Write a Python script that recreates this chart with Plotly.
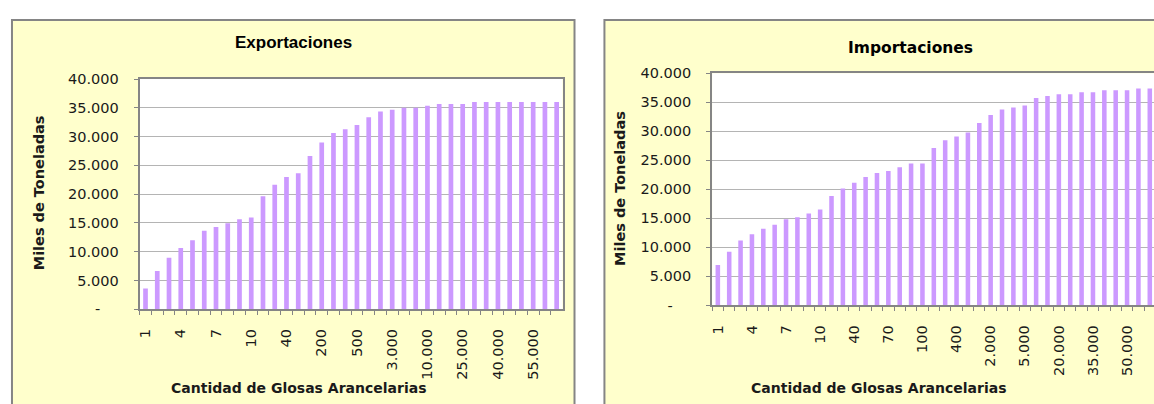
import plotly.graph_objects as go

W, H = 1154, 404

# ---------------- data ----------------
exp_categories = ["1", "2", "3", "4", "5", "6", "7", "8", "9", "10",
                  "20", "30", "40", "50", "100", "200", "300", "400", "500",
                  "1.000", "2.000", "3.000", "5.000", "7.000", "10.000",
                  "15.000", "20.000", "25.000", "30.000", "35.000", "40.000",
                  "45.000", "50.000", "55.000", "60.000", "65.000"]
exp_values = [3600, 6650, 8950, 10650, 12000, 13650, 14300, 14950, 15650, 15950,
              19650, 21650, 23000, 23650, 26650, 29000, 30650, 31300, 32000,
              33350, 34350, 34650, 35000, 35000, 35350, 35650,
              35650, 35650, 36000, 36000, 36000, 36000, 36000, 36000, 36000, 36000]

imp_categories = ["1", "2", "3", "4", "5", "6", "7", "8", "9", "10",
                  "20", "30", "40", "50", "60", "70", "80", "90", "100",
                  "200", "300", "400", "500", "1.000", "2.000", "3.000",
                  "4.000", "5.000", "10.000", "15.000", "20.000", "25.000",
                  "30.000", "35.000", "40.000", "45.000", "50.000", "55.000", "60.000"]
imp_values = [6950, 9250, 11200, 12250, 13200, 13900, 14850, 15200, 15850, 16550,
              18850, 20150, 21150, 22150, 22800, 23150, 23800, 24450, 24450,
              27150, 28450, 29100, 29800, 31450, 32800, 33750, 34100, 34450,
              35750, 36100, 36400, 36400, 36750, 36750, 37100, 37100, 37100,
              37400, 37400]

y_tickvals = [0, 5000, 10000, 15000, 20000, 25000, 30000, 35000, 40000]
y_ticktext = ["-\u00a0\u00a0\u00a0\u00a0", "5.000", "10.000", "15.000", "20.000",
              "25.000", "30.000", "35.000", "40.000"]

exp_title = "Exportaciones"
imp_title = "Importaciones"
x_title = "Cantidad de Glosas Arancelarias"
y_title = "Miles de Toneladas"

# ---------------- style ----------------
BAR = "#CC99FF"
BOX_FILL = "#FFFFCC"
BORDER = "#858585"
GRID = "#B4B4B4"
TXT = "#1a1a1a"
TICKFONT = dict(family="DejaVu Sans", size=14.5, color=TXT)


def px(x):
    return x / W


def py(y):
    return (H - y) / H


def sparse_labels(cats):
    return [c if i % 3 == 0 else "" for i, c in enumerate(cats)]


fig = go.Figure()
fig.add_trace(go.Bar(x=exp_categories, y=exp_values, marker_color=BAR,
                     marker_line_width=0, width=0.4, xaxis="x", yaxis="y",
                     showlegend=False))
fig.add_trace(go.Bar(x=imp_categories, y=imp_values, marker_color=BAR,
                     marker_line_width=0, width=0.4, xaxis="x2", yaxis="y2",
                     showlegend=False))

common_x = dict(type="category", tickson="boundaries", ticks="outside", ticklen=4,
                tickcolor=BORDER, tickwidth=1, tickangle=-90, tickfont=TICKFONT,
                showline=True, linecolor=BORDER, linewidth=2, mirror=True,
                showgrid=False, zeroline=False, ticklabelstandoff=12)
common_y = dict(range=[0, 40000], tickvals=y_tickvals, ticktext=y_ticktext,
                ticks="outside", ticklen=4, tickcolor=BORDER, tickwidth=1,
                tickfont=TICKFONT, showline=True, linecolor=BORDER, linewidth=2,
                showgrid=True, gridcolor=GRID, gridwidth=1, zeroline=False,
                ticklabelstandoff=12)

fig.update_layout(
    width=W, height=H, margin=dict(l=0, r=0, t=0, b=0),
    paper_bgcolor="white", plot_bgcolor="rgba(0,0,0,0)",
    bargap=0.6, hovermode=False,
    xaxis=dict(domain=[px(137), px(561)], anchor="y",
               categoryorder="array", categoryarray=exp_categories,
               tickmode="array", tickvals=exp_categories,
               ticktext=sparse_labels(exp_categories),
               range=[-0.5, len(exp_categories) - 0.5], **common_x),
    yaxis=dict(domain=[py(313.7), py(74)], anchor="x", mirror=True, **common_y),
    xaxis2=dict(domain=[px(711), 1.0], anchor="y2",
                categoryorder="array", categoryarray=imp_categories,
                tickmode="array", tickvals=imp_categories,
                ticktext=sparse_labels(imp_categories),
                range=[-0.5, 38.37], **common_x),
    yaxis2=dict(domain=[py(309.7), py(68)], anchor="x2", mirror=False, **common_y),
)

shapes = [
    dict(type="rect", xref="paper", yref="paper", x0=px(9), x1=px(573),
         y0=-0.05, y1=py(12.5), fillcolor=BOX_FILL,
         line=dict(color=BORDER, width=2), layer="below"),
    dict(type="rect", xref="paper", yref="paper", x0=px(603), x1=1.1,
         y0=-0.05, y1=py(12.5), fillcolor=BOX_FILL,
         line=dict(color=BORDER, width=2), layer="below"),
    dict(type="rect", xref="paper", yref="paper", x0=px(137), x1=px(561),
         y0=py(313.7), y1=py(74), fillcolor="white", line=dict(width=0), layer="below"),
    dict(type="rect", xref="paper", yref="paper", x0=px(711), x1=1.0,
         y0=py(309.7), y1=py(68), fillcolor="white", line=dict(width=0), layer="below"),
]
fig.update_layout(shapes=shapes)

annotations = [
    dict(text=exp_title, x=px(291), y=py(36), xref="paper", yref="paper",
         showarrow=False, xanchor="center", yanchor="middle",
         font=dict(family="Liberation Sans", size=17, color="black", weight="bold")),
    dict(text=imp_title, x=px(910), y=py(42), xref="paper", yref="paper",
         showarrow=False, xanchor="center", yanchor="middle",
         font=dict(family="DejaVu Sans", size=15.5, color="black", weight="bold")),
    dict(text=x_title, x=px(166), y=py(396), xref="paper", yref="paper",
         showarrow=False, xanchor="left", yanchor="middle",
         font=dict(family="DejaVu Sans", size=14, color=TXT, weight="bold")),
    dict(text=x_title, x=px(748), y=py(396), xref="paper", yref="paper",
         showarrow=False, xanchor="left", yanchor="middle",
         font=dict(family="DejaVu Sans", size=14, color=TXT, weight="bold")),
    dict(text=y_title, x=px(36), y=py(192), xref="paper", yref="paper",
         showarrow=False, xanchor="center", yanchor="middle", textangle=-90,
         font=dict(family="DejaVu Sans", size=14.5, color=TXT, weight="bold")),
    dict(text=y_title, x=px(618), y=py(188), xref="paper", yref="paper",
         showarrow=False, xanchor="center", yanchor="middle", textangle=-90,
         font=dict(family="DejaVu Sans", size=14.5, color=TXT, weight="bold")),
]
fig.update_layout(annotations=annotations)

fig.write_html("out.html", config={"displayModeBar": False, "staticPlot": True},
               post_script="document.body.style.margin='0';")
